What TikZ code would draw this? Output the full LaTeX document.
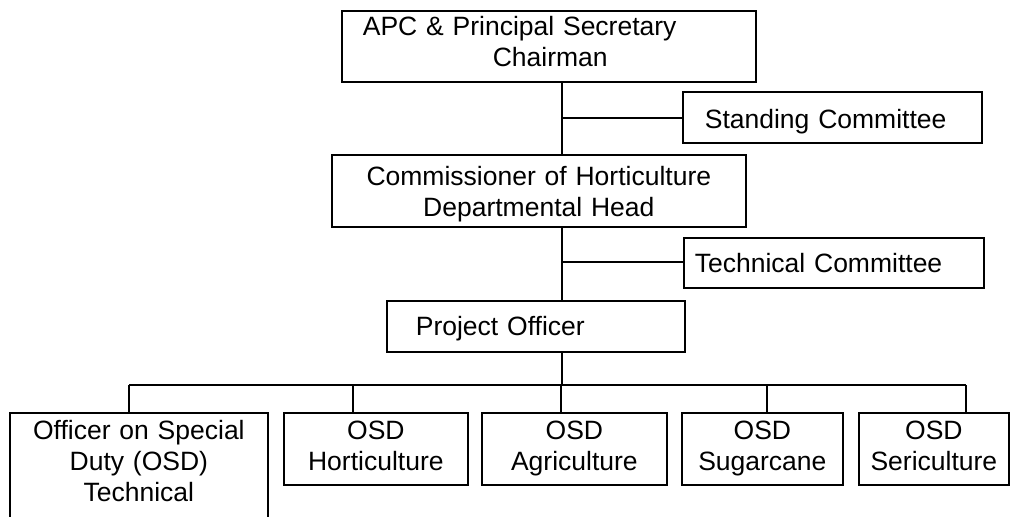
\documentclass[tikz,border=0pt]{standalone}
\usepackage{fontspec}
\setmainfont{Liberation Sans}
\begin{document}
\begin{tikzpicture}[
    x=1pt, y=-1pt,
    every node/.style={font=\fontsize{26.5}{30.7}\selectfont},
    post/.style={draw, line width=1.7pt, anchor=north west, inner sep=0pt},
    osd/.style={post, align=center, text height=27pt, text depth=45pt},
    link/.style={line width=1.4pt}
]
    \clip (0,0) rectangle (1010,517);
    % Chairman
    \node[post, align=left, inner xsep=21pt, text width=372pt,
          text height=25pt, text depth=46pt] (apc) at (341,10)
        {APC \& Principal Secretary\\\hspace*{130pt}Chairman};
    % Departmental head
    \node[post, align=center, inner xsep=5pt, text width=404pt,
          text height=31pt, text depth=41pt] (comm) at (331,154)
        {Commissioner of Horticulture\\Departmental Head};
    % Committees
    \node[post, align=left, inner xsep=22pt, text width=255pt,
          text height=37pt, text depth=14pt] (stand) at (682,91)
        {Standing Committee};
    \node[post, align=left, inner xsep=11pt, text width=278pt,
          text height=35pt, text depth=15pt] (tech) at (683,237)
        {Technical Committee};
    % Project officer
    \node[post, align=left, inner xsep=29pt, text width=240pt,
          text height=35pt, text depth=16pt] (po) at (386,300)
        {Project Officer};
    % Officers on special duty
    \node[osd, text width=258pt, text depth=128pt] (o1) at (9,412)
        {Officer on Special\\Duty (OSD)\\Technical};
    \node[osd, text width=184pt] (o2) at (283,412) {OSD\\Horticulture};
    \node[osd, text width=185pt] (o3) at (481,412) {OSD\\Agriculture};
    \node[osd, text width=161pt] (o4) at (681,412) {OSD\\Sugarcane};
    \node[osd, text width=150pt] (o5) at (858,412) {OSD\\Sericulture};

    % Spine and branches
    \coordinate (j1) at (562,118);
    \coordinate (j2) at (562,262);
    \coordinate (bus) at (562,385);
    \draw[link] (apc.south -| j1) -- (comm.north -| j1);
    \draw[link] (j1) -- (j1 -| stand.west);
    \draw[link] (comm.south -| j2) -- (po.north -| j2);
    \draw[link] (j2) -- (j2 -| tech.west);
    \draw[link] (po.south -| bus) -- (bus);

    % Bus to the OSD boxes
    \coordinate (d1) at (129,385);
    \coordinate (d2) at (353,385);
    \coordinate (d3) at (561,385);
    \coordinate (d4) at (767,385);
    \coordinate (d5) at (966,385);
    \draw[link] (d1) -- (d5);
    \foreach \i in {1,...,5}
        \draw[link] (d\i) -- (d\i |- o\i.north);
\end{tikzpicture}
\end{document}
